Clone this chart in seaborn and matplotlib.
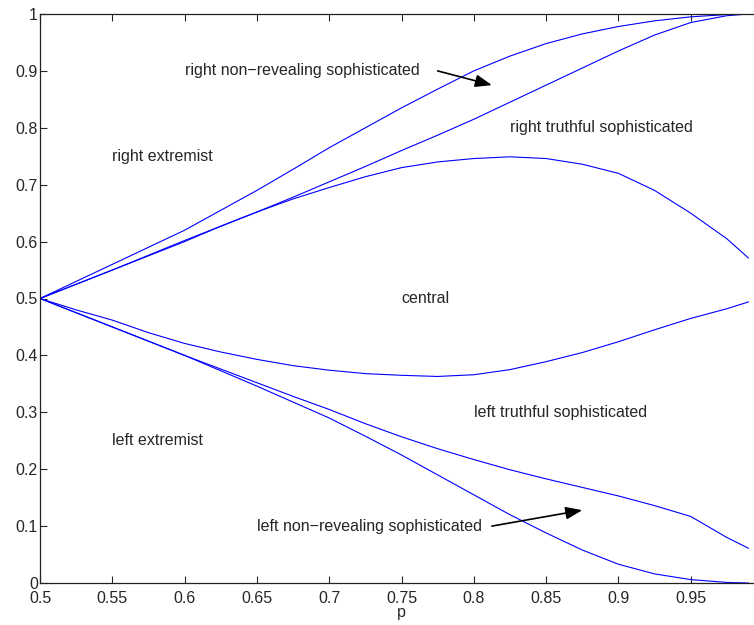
import numpy as np
import pandas as pd
import seaborn as sns
import matplotlib
matplotlib.use('Agg')
import matplotlib.pyplot as plt

# p grid and the six region boundaries
p = [0.5, 0.525, 0.55, 0.575, 0.6, 0.625, 0.65, 0.675, 0.7, 0.725, 0.75,
     0.775, 0.8, 0.825, 0.85, 0.875, 0.9, 0.925, 0.95, 0.975, 0.99]

right_nonrev = [0.5, 0.53, 0.56, 0.59, 0.62, 0.655, 0.69, 0.727, 0.765, 0.80, 0.835,
                0.868, 0.90, 0.926, 0.948, 0.965, 0.978, 0.988, 0.995, 0.999, 1.0]
right_truthful = [0.5, 0.525, 0.55, 0.576, 0.602, 0.627, 0.652, 0.678, 0.705, 0.732, 0.76,
                  0.787, 0.815, 0.845, 0.875, 0.905, 0.935, 0.963, 0.985, 0.997, 1.0]
central_upper = [0.5, 0.525, 0.55, 0.575, 0.60, 0.627, 0.652, 0.675, 0.695, 0.714, 0.73,
                 0.74, 0.746, 0.749, 0.746, 0.736, 0.72, 0.69, 0.65, 0.605, 0.571]
central_lower = [0.5, 0.48, 0.462, 0.44, 0.421, 0.406, 0.393, 0.382, 0.374, 0.368, 0.365,
                 0.363, 0.366, 0.375, 0.389, 0.405, 0.424, 0.445, 0.465, 0.482, 0.494]
left_truthful = [0.5, 0.475, 0.45, 0.425, 0.40, 0.376, 0.352, 0.328, 0.305, 0.28, 0.257,
                 0.236, 0.217, 0.199, 0.183, 0.168, 0.153, 0.136, 0.117, 0.08, 0.061]
left_nonrev = [0.5, 0.475, 0.45, 0.425, 0.40, 0.373, 0.346, 0.318, 0.29, 0.258, 0.225,
               0.19, 0.155, 0.12, 0.088, 0.058, 0.033, 0.016, 0.006, 0.001, 0.0]

curves = {
    'right_nonrev': right_nonrev,
    'right_truthful': right_truthful,
    'central_upper': central_upper,
    'central_lower': central_lower,
    'left_truthful': left_truthful,
    'left_nonrev': left_nonrev,
}

xticks = [0.5, 0.55, 0.6, 0.65, 0.7, 0.75, 0.8, 0.85, 0.9, 0.95]
xtick_labels = ['0.5', '0.55', '0.6', '0.65', '0.7', '0.75', '0.8', '0.85', '0.9', '0.95']
yticks = [0, 0.1, 0.2, 0.3, 0.4, 0.5, 0.6, 0.7, 0.8, 0.9, 1]
ytick_labels = ['0', '0.1', '0.2', '0.3', '0.4', '0.5', '0.6', '0.7', '0.8', '0.9', '1']

df = pd.DataFrame([(name, x, y) for name, ys in curves.items() for x, y in zip(p, ys)],
                  columns=['curve', 'p', 'value'])

sns.set_style('ticks')
plt.rcParams['font.family'] = ['Liberation Sans', 'DejaVu Sans']
plt.rcParams['xtick.direction'] = 'in'
plt.rcParams['ytick.direction'] = 'in'

fig = plt.figure(figsize=(7.54, 6.25), dpi=100)
ax = fig.add_axes([40 / 754, 42 / 625, 723 / 754, 569 / 625])

sns.lineplot(data=df, x='p', y='value', hue='curve', units='curve', estimator=None,
             palette=['#0000ff'] * len(curves), legend=False, linewidth=0.8, ax=ax)

ax.set_xlim(0.5, 1.0)
ax.set_ylim(0, 1)
ax.set_xticks(xticks)
ax.set_xticklabels(xtick_labels)
ax.set_yticks(yticks)
ax.set_yticklabels(ytick_labels)
ax.tick_params(top=True, right=True, length=5, width=0.8, labelsize=11.5)
ax.tick_params(axis='x', pad=6)
ax.tick_params(axis='y', pad=1.5)
for s in ax.spines.values():
    s.set_linewidth(0.9)
    s.set_color('#222222')
ax.set_xlabel('p', fontsize=11.5, labelpad=-1)
ax.set_ylabel('')

fs = 11.5
ax.text(0.6, 0.9, 'right non\u2212revealing sophisticated', fontsize=fs, va='center')
ax.text(0.825, 0.8, 'right truthful sophisticated', fontsize=fs, va='center')
ax.text(0.55, 0.75, 'right extremist', fontsize=fs, va='center')
ax.text(0.75, 0.5, 'central', fontsize=fs, va='center')
ax.text(0.55, 0.25, 'left extremist', fontsize=fs, va='center')
ax.text(0.8, 0.3, 'left truthful sophisticated', fontsize=fs, va='center')
ax.text(0.65, 0.1, 'left non\u2212revealing sophisticated', fontsize=fs, va='center')

arrow = dict(arrowstyle='-|>,head_length=1.0,head_width=0.38', color='k', lw=1.2,
             shrinkA=0, shrinkB=0)
ax.annotate('', xy=(0.8125, 0.875), xytext=(0.775, 0.90), arrowprops=arrow)
ax.annotate('', xy=(0.875, 0.128), xytext=(0.8125, 0.10), arrowprops=arrow)

fig.savefig('out.png', dpi=100)
